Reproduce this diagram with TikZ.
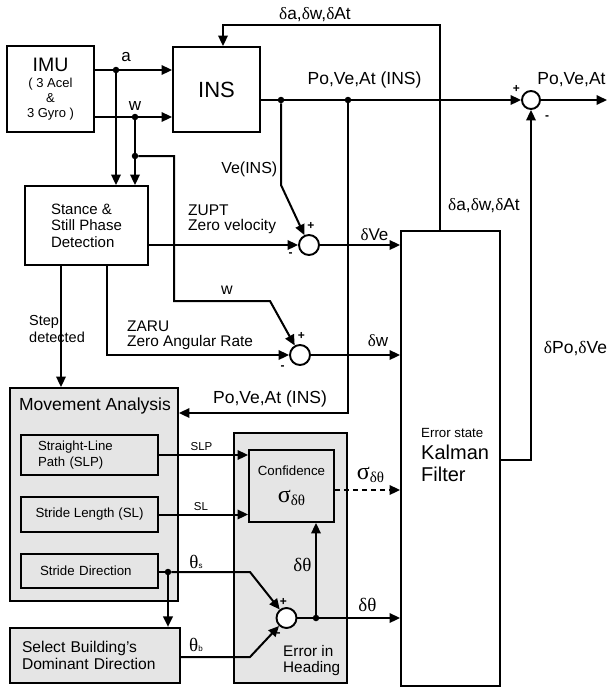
\documentclass[tikz,border=0pt]{standalone}
\usepackage{fontspec}
\setmainfont{Liberation Sans}
\newfontfamily\grf{Liberation Serif}
\usetikzlibrary{arrows.meta}
\newcommand\fsz[1]{\fontsize{#1}{#1}\selectfont}
\newcommand\gD{{\grf δ}}
\newcommand\gT{{\grf θ}}
\newcommand\gS{{\grf σ}}
\begin{document}
\begin{tikzpicture}[x=1pt,y=-1pt,
  box/.style={draw, line width=1.9pt, inner sep=0pt, fill=white},
  gbox/.style={box, fill=black!10},
  ibox/.style={gbox, line width=2.5pt},
  sumc/.style={circle, draw, line width=1.9pt, minimum size=20pt, inner sep=0pt, fill=white},
  conn/.style={line width=2pt},
  arr/.style={conn, -{Triangle[length=10.5pt,width=9.5pt]}},
  dot/.style={circle, fill, inner sep=0pt, minimum size=6.5pt},
  lbl/.style={inner sep=0pt, font=\fsz{16}},
  sgn/.style={inner sep=0pt, font=\fsz{12}\bfseries}]
\useasboundingbox (0,0) rectangle (608,689);

% ---------- boxes ----------
\node[box, minimum width=87pt, minimum height=86pt, align=center,
  font=\fontsize{13}{15}\selectfont] (imu) at (50.5,89)
  {{\fontsize{19.5}{15}\selectfont IMU}\\[1.5pt]( 3 Acel\\\&\\3 Gyro )};
\node[box, minimum width=87pt, minimum height=85pt, font=\fsz{22}] (ins) at (216.5,89.5) {INS};
\node[box, minimum width=123pt, minimum height=79pt, align=left,
  font=\fontsize{15}{16.5}\selectfont] (stance) at (86.5,225.5)
  {Stance \&\\Still Phase\\Detection};
\node[box, minimum width=99pt, minimum height=455pt] (kf) at (450.5,458.5) {};
\node[inner sep=0pt, anchor=west, align=left, font=\fontsize{20}{22}\selectfont] (kftext) at (421,455)
  {{\fontsize{13.3}{22}\selectfont Error state}\\Kalman\\Filter};

\node[gbox, minimum width=168pt, minimum height=213pt] (ma) at (94,494.5) {};
\node[inner sep=0pt, font=\fsz{17.5}] (matitle) at (95,405.5) {Movement Analysis};
\node[ibox, minimum width=137pt, minimum height=40pt, text width=103pt, inner xsep=17pt,
  align=left, font=\fontsize{13.2}{15.5}\selectfont] (slp) at (89.5,455)
  {Straight-Line\\Path (SLP)};
\node[ibox, minimum width=137pt, minimum height=35pt, font=\fsz{13.3}] (sl) at (89.5,514.5)
  {Stride Length (SL)};
\node[ibox, minimum width=137pt, minimum height=34pt, text width=99pt, inner xsep=19pt,
  align=left, font=\fsz{13.3}] (sd) at (89.5,571) {Stride Direction};
\node[gbox, line width=2.2pt, minimum width=170pt, minimum height=55pt, text width=146pt,
  inner xsep=12pt, align=left, font=\fontsize{15.6}{17}\selectfont] (sel) at (95,655.5)
  {Select Building's\\Dominant Direction};

\node[gbox, minimum width=113pt, minimum height=250pt] (eh) at (290.5,558) {};
\node[inner sep=0pt, anchor=west, align=left, font=\fontsize{15.3}{16}\selectfont] (ehtext) at (283,661)
  {Error in\\Heading};
\node[gbox, minimum width=85pt, minimum height=72pt, align=center,
  font=\fontsize{13.3}{15}\selectfont] (conf) at (291.5,486)
  {Confidence\\[12pt]{\grf\fsz{24}σ}{\grf\fsz{15}\raisebox{-3pt}{δθ}}};

% ---------- summing junctions ----------
\node[sumc] (c1) at (309,245) {};
\node[sumc] (c2) at (300,355) {};
\node[sumc, minimum size=18pt] (c3) at (531,100) {};
\node[sumc] (c4) at (286.5,618) {};

% ---------- dots and coordinates ----------
\node[dot] (da) at (116,70) {};
\node[dot] (dw) at (135,117) {};
\node[dot] (dw2) at (135,156) {};
\node[dot] (d1) at (281,100) {};
\node[dot] (d2) at (348,100) {};
\node[dot] (d3) at (168,572) {};
\node[dot] (d4) at (316,618) {};
\coordinate (out) at (607,100);
\coordinate (kfo) at (531,460);
\coordinate (fb) at (440,25);
\coordinate (fb2) at (223,25);
\coordinate (zr) at (107,355);
\coordinate (st) at (61,300);
\coordinate (pv) at (348,413);
\coordinate (ta) at (250,572);
\coordinate (tb) at (250,657);

% ---------- connectors ----------
\draw[arr] (imu.east |- da) -- (ins.west |- da);
\draw[arr] (imu.east |- dw) -- (ins.west |- dw);
\draw[arr] (da) -- (da |- stance.north);
\draw[arr] (dw) -- (dw |- stance.north);
\draw[arr] (dw2) -- (174,156) -- (174,301) -- (270,301) -- (c2);
\draw[arr] (ins.east |- c3) -- (c3);
\draw[arr] (c3) -- (out);
\draw[arr] (d1) -- (281,185) -- (c1);
\draw[arr] (kf.east |- kfo) -| (c3.south);
\draw[arr] (kf.north -| fb) -- (fb) -- (fb2) -- (fb2 |- ins.north);
\draw[arr] (stance.east |- c1) -- (c1);
\draw[arr] (stance.south -| zr) -- (zr) -- (c2);
\draw[arr] (stance.south -| st) -- (st |- ma.north);
\draw[arr] (c1) -- (kf.west |- c1);
\draw[arr] (c2) -- (kf.west |- c2);
\draw[arr] (d2) -- (pv) -- (ma.east |- pv);
\draw[arr] (slp.east) -- (conf.west |- slp.east);
\draw[arr] (sl.east) -- (conf.west |- sl.east);
\draw[conn] (sd.east |- d3) -- (d3);
\draw[arr] (d3) -- (ta) -- (c4);
\draw[arr] (d3) -- (d3 |- sel.north);
\draw[arr] (sel.east |- tb) -- (tb) -- (c4);
\draw[arr] (c4) -- (kf.west |- c4);
\draw[arr] (d4) -- (d4 |- conf.south);
\draw[arr, dash pattern=on 5pt off 4pt] ([yshift=-4pt]conf.east) -- ([yshift=-4pt]conf.east -| kf.west);

% ---------- labels ----------
\node[lbl, font=\fsz{17}] (la) at (126,57.5) {a};
\node[lbl, font=\fsz{17}] (lw) at (135,106.5) {w};
\node[lbl, anchor=east] (lveins) at (277.5,169.5) {Ve(INS)};
\node[lbl, anchor=west, align=left, font=\fontsize{15.5}{15}\selectfont] (lzupt) at (188,219.5) {ZUPT\\Zero velocity};
\node[lbl] (lw2) at (227,290) {w};
\node[lbl, anchor=west, align=left, font=\fontsize{15.4}{15}\selectfont] (lzaru) at (127,335) {ZARU\\Zero Angular Rate};
\node[lbl, anchor=west, align=left, font=\fontsize{14.5}{17}\selectfont] (lstep) at (29,329) {Step\\detected};
\node[lbl, font=\fsz{17.5}] (lpvi) at (364.5,79.5) {Po,Ve,At (INS)};
\node[lbl, font=\fsz{17.5}] (lpva) at (571.5,79.5) {Po,Ve,At};
\node[lbl, font=\fsz{17.3}] (lda1) at (315,15) {\gD a,\gD w,\gD At};
\node[lbl, font=\fsz{17.3}] (lda2) at (484,205.5) {\gD a,\gD w,\gD At};
\node[lbl, font=\fsz{17}] (ldve) at (374.5,235) {\gD Ve};
\node[lbl, font=\fsz{17}] (ldw) at (378,340.5) {\gD w};
\node[lbl, font=\fsz{17.5}] (ldpo) at (575.5,348.5) {\gD Po,\gD Ve};
\node[lbl, font=\fsz{17.5}] (lpvi2) at (270,399) {Po,Ve,At (INS)};
\node[lbl, font=\fsz{11.5}] (lslp) at (201.5,447) {SLP};
\node[lbl, font=\fsz{11.5}] (lsl) at (201,507) {SL};
\node[lbl, font=\fsz{19}] (lts) at (196,562) {\gT{\fsz{8}s}};
\node[lbl, font=\fsz{19}] (ltb) at (196,645) {\gT{\fsz{8}b}};
\node[lbl, font=\fsz{19}] (ldt1) at (302.5,564.5) {\gD\gT};
\node[lbl, font=\fsz{19}] (ldt2) at (367.5,604.5) {\gD\gT};
\node[lbl] (lsig) at (370.5,475) {{\grf\fsz{24}σ}{\grf\fsz{15}\raisebox{-3pt}{δθ}}};

% ---------- signs ----------
\node[sgn] (p1) at (311,226) {+};
\node[sgn] (m1) at (290.5,255) {-};
\node[sgn] (p2) at (301.5,336) {+};
\node[sgn] (m2) at (282.5,367.5) {-};
\node[sgn] (p3) at (516.5,89) {+};
\node[sgn] (m3) at (547,118) {-};
\node[sgn] (p4) at (283.5,601.5) {+};
\node[sgn] (m4) at (278.5,635) {-};
\end{tikzpicture}
\end{document}
